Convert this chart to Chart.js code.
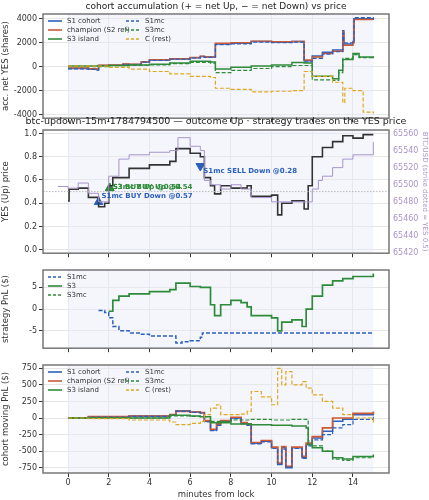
<!DOCTYPE html>
<html><head><meta charset="utf-8">
<script src="https://cdn.jsdelivr.net/npm/chart.js@4"></script>
<style>body{margin:0;background:#fff;width:429px;height:500px;position:relative;overflow:hidden}canvas{position:absolute;left:0}</style>
</head><body>
<canvas id="c1" style="top:0px" width="429" height="125"></canvas>
<canvas id="c2" style="top:115px" width="429" height="145"></canvas>
<canvas id="c3" style="top:260px" width="429" height="95"></canvas>
<canvas id="c4" style="top:355px" width="429" height="145"></canvas>
<script>
// ---------- DATA ----------
const xTicks=[0,2,4,6,8,10,12,14];
// panel 1: accumulated net YES shares
const accS1T=[0,1,1.4,1.5,2,2.7,3,3.6,4,5,6,6.5,6.7,7.24,8,9,10,11,11.6,12,12.5,13,13.5,13.55,14,14.05,15];
const accS1V=[-150,-200,-250,100,120,200,180,400,550,650,750,850,800,1900,1950,2100,2050,2100,500,900,1200,1400,3000,1900,2100,4000,3900];
const accChV=[-100,-170,-220,120,140,220,200,420,570,670,760,870,820,1950,2000,2120,2080,2100,550,800,1100,1300,2900,1800,2000,3950,3950];
const accMcV=[-180,-230,-280,80,100,180,160,380,530,630,730,830,780,1850,1900,2050,2000,2050,400,700,1050,1250,2800,2000,2200,4100,4000];
const accS3T=[0,2,3,4,5,6,7,7.24,8,9,10,11,11.6,12,13,13.3,13.5,14,14.3,15];
const accS3V=[50,100,150,200,300,450,400,-200,-50,50,150,350,300,-800,-1000,-300,600,1100,800,700];
const accS3mcV=[0,80,120,150,250,350,300,-500,-300,-150,0,100,100,-1100,-1150,-500,700,1000,750,650];
const accCT=[0,2,3,4,5,6,7,7.24,8,9,10,11,11.6,12,13,13.5,13.6,14,14.5,15];
const accCV=[50,-50,-200,-400,-600,-800,-900,-1800,-1900,-2100,-2050,-2000,-400,-800,-1300,-3000,-1800,-2000,-3800,-3900];
// panel 2: YES price and BTC
const yesT=[0,0.05,0.5,1,1.5,1.8,2,2.2,3,4,5,5.3,6,6.5,6.7,7,7.2,7.5,8,8.8,9,10,10.3,10.5,11,11.6,11.8,12,12.5,13,13.5,14,14.5,15];
const yesV=[0.42,0.52,0.53,0.45,0.37,0.40,0.55,0.62,0.70,0.73,0.76,0.87,0.83,0.80,0.62,0.55,0.48,0.55,0.53,0.55,0.46,0.47,0.30,0.40,0.42,0.35,0.55,0.80,0.88,0.93,0.98,0.96,0.99,0.99];
const btcT=[-0.5,0,0.5,1,1.5,2,2.5,3,4,5,5.4,6,6.5,6.7,7,7.5,8,8.5,9,10,11,11.7,12,12.3,12.5,13,13.5,14,14.7,15];
const btcV=[65498,65496,65502,65490,65480,65510,65530,65535,65538,65540,65555,65545,65540,65505,65500,65495,65500,65495,65485,65480,65480,65480,65495,65505,65510,65520,65530,65535,65535,65550];
const tradeLabels=["S1mc BUY Down @0.57","S3 BUY Up @0.54","S3mc BUY Up @0.54","S1mc SELL Down @0.28"];
const tradeT=[1.5,2.05,2.05,6.5];
const tradeP=[0.41,0.53,0.53,0.72];
// panel 3: strategy PnL
const pS1mcT=[1.5,1.8,2,2.2,2.5,3,3.5,4,5,5.3,5.6,6,6.5,6.6,15];
const pS1mcV=[-0.3,-0.8,-2,-4,-5,-5.5,-5.8,-6.2,-6.2,-7.8,-7.5,-7.3,-6.5,-5.5,-5.5];
const pS3T=[2,2.2,2.5,3,4,5,5.3,6,6.5,7,7.2,7.5,8,8.5,8.8,9,10,10.3,10.5,11,11.5,11.7,12,12.5,13,13.5,14,15];
const pS3V=[-0.5,2,3,3.5,4,4.5,6,5.2,5,1,-1.5,1,2,1.5,0.5,-1.5,-2,-5,-3,-2.5,-4,0,3,5.5,6.5,7,7.5,8.2];
// panel 4: cohort moving PnL
const mT=[0,1,3,5,5.3,6,6.5,6.7,7,7.3,7.5,8,8.5,8.8,9,9.5,10,10.3,10.5,10.7,11,11.5,11.7,12,12.5,13,13.5,14,15];
const mS1V=[0,20,30,50,110,90,80,-50,-180,-100,-50,0,-80,-100,-380,-350,-450,-700,-450,-750,-450,-600,-400,-300,-200,-50,-20,50,80];
const mChV=[0,20,30,50,100,90,80,-40,-170,-90,-40,10,-70,-90,-370,-340,-440,-680,-430,-730,-440,-580,-380,-280,-150,0,0,70,100];
const mMcV=[0,15,25,45,100,85,75,-60,-190,-110,-60,-10,-90,-110,-390,-360,-460,-700,-470,-740,-460,-610,-420,-330,-250,-150,-100,-20,20];
const mS3T=[0,5,6,6.5,7,8,9,10,11,11.7,11.8,12,12.5,13,13.5,14,15];
const mS3V=[0,40,30,20,-70,-90,-100,-110,-120,-150,-400,-450,-500,-600,-620,-580,-550];
const mS3mcV=[0,30,25,20,-50,-30,-20,-30,-20,-20,-350,-420,-500,-620,-640,-600,-570];
const mCV=[0,-10,-30,-60,-100,-80,-50,50,150,200,50,50,60,100,400,320,200,750,500,700,500,550,450,350,250,150,50,0,-80];

// ---------- HELPERS ----------
const BLUE='#2b5fbd',CH='#cc5a35',GRN='#2e8b3a',YEL='#e0a820',PUR='#a993cc';
Chart.defaults.font.family='DejaVu Sans';Chart.defaults.font.size=8;Chart.defaults.color='#333';
Chart.defaults.animation=false;
const pts=(t,v)=>t.map((x,i)=>({x,y:v[i]}));
function ds(label,t,v,color,dash,w){return{label,data:pts(t,v),borderColor:color,backgroundColor:color,borderWidth:w||1.5,borderDash:dash?[4,2]:[],stepped:true,pointRadius:0,fill:false};}
const grid={color:'#e6e6e6',drawTicks:true,tickLength:4,tickColor:'#333'};
const plain=v=>String(v);
function xScale(show){return{type:'linear',min:-1.23,max:15.77,afterBuildTicks:s=>{s.ticks=xTicks.map(v=>({value:v}))},
 afterFit:s=>{s.height=show?12:4},grid,border:{display:false},
 ticks:{display:show,padding:1,color:'#333',callback:plain},
 title:{display:false}};}
const frame={id:'frame',beforeDatasetsDraw(c){const a=c.chartArea,x=c.scales.x,g=c.ctx;g.save();g.fillStyle='rgba(230,236,248,0.45)';
 g.fillRect(x.getPixelForValue(0),a.top,x.getPixelForValue(15)-x.getPixelForValue(0),a.bottom-a.top);g.restore();},
 afterDraw(c){const a=c.chartArea,g=c.ctx;g.save();g.strokeStyle='#777';g.lineWidth=1.5;g.strokeRect(a.left,a.top,a.right-a.left,a.bottom-a.top);
 const o=c.options.plugins.extra||{};
 if(o.title){g.fillStyle='#222';g.font=o.tf||'9px DejaVu Sans';g.textAlign='center';g.textBaseline='middle';g.fillText(o.title,(a.left+a.right)/2,o.ty);}
 if(o.legend){g.font='7px DejaVu Sans';g.textBaseline='middle';g.textAlign='left';
  o.legend.forEach((it,i)=>{const col=Math.floor(i/o.rows),row=i%o.rows;const lx=a.left+5+col*o.colw,ly=a.top+7+row*9;
   g.strokeStyle=it[1];g.lineWidth=1.6;g.setLineDash(it[2]?[3,2]:[]);g.beginPath();g.moveTo(lx,ly);g.lineTo(lx+14,ly);g.stroke();g.setLineDash([]);
   g.fillStyle='#333';g.fillText(it[0],lx+19,ly);});}
 g.restore();}};
function yl(text){return{display:true,text,font:{size:8.5},padding:1};}

// ---------- PANEL 1 ----------
new Chart('c1',{type:'line',data:{datasets:[
 ds('C (rest)',accCT,accCV,YEL,true,1.2),ds('S3mc',accS3T,accS3mcV,GRN,true,1.2),ds('S3 island',accS3T,accS3V,GRN,false),
 ds('S1mc',accS1T,accMcV,BLUE,true,1.2),ds('champion',accS1T,accChV,CH,false),ds('S1 cohort',accS1T,accS1V,BLUE,false)]},
 options:{responsive:false,layout:{padding:{top:14,right:40,left:0,bottom:0}},
 plugins:{legend:{display:false},tooltip:{enabled:false},extra:{title:'cohort accumulation (+ = net Up, − = net Down) vs price',ty:7,
  legend:[['S1 cohort',BLUE],['champion (S2 ref)',CH],['S3 island',GRN],['S1mc',BLUE,1],['S3mc',GRN,1],['C (rest)',YEL,1]],rows:3,colw:78}},
 scales:{x:xScale(false),y:{min:-4300,max:4400,afterFit:s=>{s.width=43},afterBuildTicks:s=>{s.ticks=[-4000,-2000,0,2000,4000].map(v=>({value:v}))},
  grid,border:{display:false},title:yl('acc. net YES (shares)'),ticks:{padding:2,callback:plain}}}},plugins:[frame]});

// ---------- PANEL 2 ----------
const tradeColors=[BLUE,GRN,GRN,BLUE];
const labelPlugin={id:'lbl',afterDatasetsDraw(c){const g=c.ctx,x=c.scales.x,y=c.scales.y;g.save();g.font='bold 7px DejaVu Sans';g.textBaseline='middle';
 tradeLabels.forEach((l,i)=>{g.fillStyle=tradeColors[i];g.fillText(l,x.getPixelForValue(tradeT[i])+3,y.getPixelForValue(tradeP[i])+(i==0?-6:i==3?5:-1));});
 const ys=y.getPixelForValue(0.5);g.strokeStyle='#bbb';g.setLineDash([1.5,1.5]);g.lineWidth=1;g.beginPath();g.moveTo(c.chartArea.left,ys);g.lineTo(c.chartArea.right,ys);g.stroke();g.restore();}};
new Chart('c2',{type:'line',data:{datasets:[
 {...ds('BTC',btcT,btcV,PUR,false,1),yAxisID:'y2'},
 ds('YES',yesT,yesV,'#333',false,1.6),
 {type:'scatter',label:'trades',data:pts(tradeT,tradeP),pointStyle:'triangle',pointRadius:5,
  pointRotation:[0,0,0,180],backgroundColor:tradeColors,borderColor:tradeColors}]},
 options:{responsive:false,layout:{padding:{top:15,right:0,left:0,bottom:0}},
 plugins:{legend:{display:false},tooltip:{enabled:false},extra:{title:'btc-updown-15m-1784794500 — outcome Up · strategy trades on the YES price',ty:7,tf:'9.5px DejaVu Sans'}},
 scales:{x:xScale(false),y:{min:-0.03,max:1.03,afterFit:s=>{s.width=43},afterBuildTicks:s=>{s.ticks=[0,0.2,0.4,0.6,0.8,1].map(v=>({value:v}))},
  grid,border:{display:false},title:yl('YES (Up) price'),ticks:{padding:2,callback:v=>v.toFixed(1)}},
  y2:{position:'right',min:65420,max:65564,afterFit:s=>{s.width=40},afterBuildTicks:s=>{s.ticks=[65420,65440,65460,65480,65500,65520,65540,65560].map(v=>({value:v}))},
  grid:{display:false,tickLength:3,tickColor:PUR},border:{display:false},title:{display:true,text:'BTC/USD (strike dotted = YES 0.5)',color:PUR,font:{size:7},padding:0},ticks:{color:PUR,padding:1,font:{size:8},callback:plain}}}},
 plugins:[frame,labelPlugin]});

// ---------- PANEL 3 ----------
new Chart('c3',{type:'line',data:{datasets:[
 ds('S3',pS3T,pS3V,GRN,false,1.7),ds('S1mc',pS1mcT,pS1mcV,BLUE,true,1.5)]},
 options:{responsive:false,layout:{padding:{top:10,right:40,left:0,bottom:0}},
 plugins:{legend:{display:false},tooltip:{enabled:false},extra:{legend:[['S1mc',BLUE,1],['S3',GRN],['S3mc',GRN,1]],rows:3,colw:78}},
 scales:{x:xScale(false),y:{min:-9,max:9,afterFit:s=>{s.width=43},afterBuildTicks:s=>{s.ticks=[-5,0,5].map(v=>({value:v}))},
  grid,border:{display:false},title:yl('strategy PnL ($)'),ticks:{padding:2,callback:plain}}}},plugins:[frame]});

// ---------- PANEL 4 ----------
new Chart('c4',{type:'line',data:{datasets:[
 ds('C (rest)',mT,mCV,YEL,true,1.2),ds('S3mc',mS3T,mS3mcV,GRN,true,1.2),ds('S3 island',mS3T,mS3V,GRN,false),
 ds('S1mc',mT,mMcV,BLUE,true,1.2),ds('champion',mT,mChV,CH,false,1.7),ds('S1 cohort',mT,mS1V,BLUE,false)]},
 options:{responsive:false,layout:{padding:{top:10,right:40,left:0,bottom:0}},
 plugins:{legend:{display:false},tooltip:{enabled:false},extra:{
  legend:[['S1 cohort',BLUE],['champion (S2 ref)',CH],['S3 island',GRN],['S1mc',BLUE,1],['S3mc',GRN,1],['C (rest)',YEL,1]],rows:3,colw:78}},
 scales:{x:{...xScale(true),afterFit:s=>{s.height=27},title:{display:true,text:'minutes from lock',font:{size:8.5},padding:0}},
  y:{min:-830,max:800,afterFit:s=>{s.width=43},afterBuildTicks:s=>{s.ticks=[-750,-500,-250,0,250,500,750].map(v=>({value:v}))},
  grid,border:{display:false},title:yl('cohort moving PnL ($)'),ticks:{padding:2,callback:plain}}}},plugins:[frame]});
</script></body></html>
